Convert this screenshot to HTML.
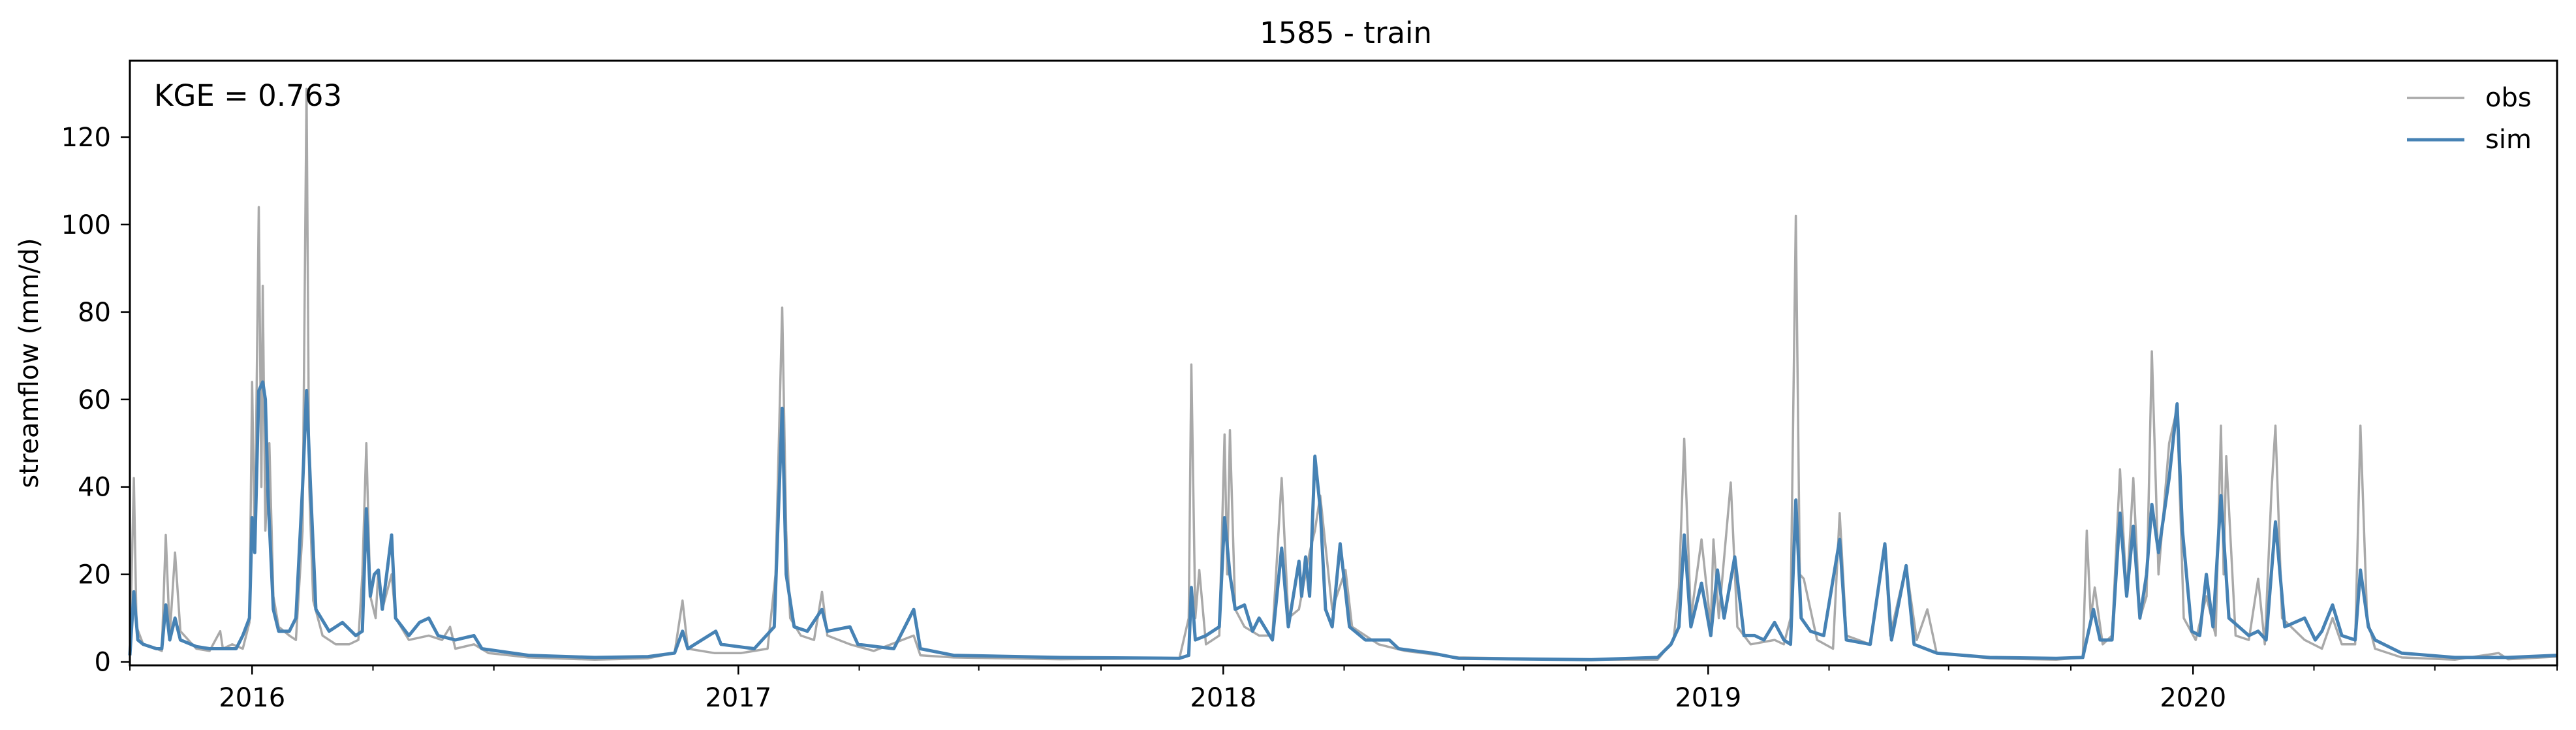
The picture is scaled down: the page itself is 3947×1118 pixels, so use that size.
<!DOCTYPE html>
<html><head><meta charset="utf-8"><style>
body{margin:0;background:#fff}
svg{display:block;font-family:"DejaVu Sans","Liberation Sans",sans-serif}
</style></head><body>
<svg id="chart" width="3947" height="1118" viewBox="0 0 3947 1118" xmlns="http://www.w3.org/2000/svg">
<text x="2062" y="66" font-size="45" text-anchor="middle">1585 - train</text>
<g id="plot"></g>
<rect x="199" y="93" width="3719" height="926" fill="none" stroke="#000" stroke-width="3"/>
<text x="236" y="162" font-size="45">KGE = 0.763</text>
<text transform="translate(58,556) rotate(-90)" font-size="40" text-anchor="middle">streamflow (mm/d)</text>
<g>
<line x1="3688" y1="150" x2="3776" y2="150" stroke="#a9a9a9" stroke-width="3.5"/>
<text x="3808" y="163" font-size="40">obs</text>
<line x1="3688" y1="214" x2="3776" y2="214" stroke="#4682b4" stroke-width="5"/>
<text x="3808" y="227" font-size="40">sim</text>
</g>
<g id="axes"></g>
</svg>
<script>
const yTicks=[0,20,40,60,80,100,120];
const yearTicks=[92,458,823,1188,1553];
const yearLabels=["2016","2017","2018","2019","2020"];
const quarterTicks=[0,183,274,549,639,731,914,1004,1096,1279,1369,1461,1644,1735,1827];
const obsDays=[
0,3,5,10,20,24,27,30,34,38,50,60,68,70,77,85,90,
92,94,97,99,100,102,105,108,112,120,125,130,133,135,138,145,155,
165,172,175,178,181,185,187,190,197,200,210,225,235,241,245,259,270,
300,350,390,410,416,420,440,460,480,486,491,494,497,505,515,521,525,
542,560,590,595,620,700,790,797,799,802,805,810,820,824,826,828,832,
839,850,860,867,872,880,888,892,896,905,915,920,940,960,1000,1100,1150,
1162,1166,1170,1175,1183,1190,1192,1196,1205,1210,1220,1238,1245,1250,1254,1257,1260,
1270,1282,1287,1292,1310,1321,1325,1337,1345,1353,1360,1400,1450,1470,1473,1476,1479,
1485,1492,1498,1503,1508,1513,1518,1522,1527,1535,1541,1546,1555,1563,1570,1574,1576,1578,
1585,1595,1602,1607,1612,1615,1620,1637,1650,1658,1665,1675,1679,1684,1690,1710,1750,1783,1790,1827];
const obsVals=[
2,42,8,4,3,2.5,29,6,25,7,3,2.5,7,3,4,3,9,
64,25,104,40,86,30,50,15,8,6,5,30,131,40,14,6,4,
4,5,20,50,15,10,21,12,20,10,5,6,5,8,3,4,2,
1,0.5,0.8,2,14,3,2,2,3,20,81,30,10,6,5,16,6,
4,2.5,6,1.5,1,0.6,0.8,10,68,10,21,4,6,52,20,53,12,
8,6,6,42,10,12,25,30,38,12,21,8,4,2.5,1,0.5,0.5,
5,17,51,10,28,8,28,10,41,8,4,5,4,10,102,20,19,
5,3,34,6,4,27,6,22,5,12,2,0.8,0.5,1,30,10,17,
4,6,44,15,42,10,15,71,20,50,58,10,5,15,6,54,20,47,
6,5,19,4,39,54,10,5,3,10,4,4,54,10,3,1,0.5,2,0.6,1.2];
const simDays=[
0,3,6,10,20,24,27,30,34,38,50,60,70,80,85,90,
92,94,97,100,102,104,108,112,120,125,130,133,136,140,150,160,
170,175,178,181,184,187,190,197,200,210,218,225,232,245,259,265,
300,350,390,410,416,420,441,445,470,485,491,494,500,510,521,525,
542,548,575,590,595,620,700,790,797,799,802,810,820,824,828,832,
839,845,850,860,867,872,880,882,885,888,892,896,900,905,911,918,
930,948,955,980,1000,1100,1150,1160,1166,1170,1175,1183,1190,1195,1200,1208,
1215,1223,1230,1238,1245,1250,1254,1258,1265,1275,1287,1292,1310,1321,1326,1337,
1343,1360,1400,1450,1470,1478,1483,1492,1498,1503,1508,1513,1518,1522,1527,1535,
1541,1545,1552,1558,1563,1568,1574,1580,1595,1602,1608,1615,1622,1637,1645,1650,
1658,1665,1675,1679,1685,1690,1710,1750,1790,1827];
const simVals=[
1.5,16,5,4,3,3,13,5,10,5,3.5,3,3,3,6,10,
33,25,62,64,60,38,12,7,7,10,40,62,40,12,7,9,
6,7,35,15,20,21,12,29,10,6,9,10,6,5,6,3,
1.5,1,1.2,2,7,3,7,4,3,8,58,20,8,7,12,7,
8,4,3,12,3,1.5,1,0.8,1.5,17,5,6,8,33,20,12,
13,7,10,5,26,8,23,15,24,15,47,35,12,8,27,8,
5,5,3,2,0.8,0.5,1,4,8,29,8,18,6,21,10,24,
6,6,5,9,5,4,37,10,7,6,28,5,4,27,5,22,
4,2,1,0.8,1,12,5,5,34,15,31,10,20,36,25,42,
59,30,7,6,20,8,38,10,6,7,5,32,8,10,5,7,
13,6,5,21,8,5,2,1,1,1.5];

const X0=199,X1=3918,D1=1827,Y0=1013.6,PY=6.697;
function xScale(d){return X0+(X1-X0)*d/D1;}
function yScale(v){return Y0-v*PY;}
const NS="http://www.w3.org/2000/svg";
const plot=document.getElementById('plot');
const axes=document.getElementById('axes');
function series(days,vals,color,w,name){
  const n=Math.min(days.length,vals.length);
  const pts=[];
  for(let i=0;i<n;i++)pts.push(xScale(days[i]).toFixed(1)+','+yScale(vals[i]).toFixed(1));
  const p=document.createElementNS(NS,'polyline');
  p.setAttribute('points',pts.join(' '));
  p.setAttribute('fill','none');p.setAttribute('stroke',color);p.setAttribute('stroke-width',w);
  p.setAttribute('stroke-linejoin','round');
  
  
  plot.appendChild(p);
}
series(obsDays,obsVals,'#a9a9a9',3.5,'obs-line');
series(simDays,simVals,'#4682b4',5,'sim-line');
yTicks.forEach(v=>{
  const y=yScale(v);
  const l=document.createElementNS(NS,'line');
  l.setAttribute('x1',185);l.setAttribute('x2',199);l.setAttribute('y1',y);l.setAttribute('y2',y);
  l.setAttribute('stroke','#000');l.setAttribute('stroke-width',2.5);
  
  
  axes.appendChild(l);
  const t=document.createElementNS(NS,'text');
  t.setAttribute('x',170);t.setAttribute('y',y+14);t.setAttribute('font-size',40);t.setAttribute('text-anchor','end');
  t.textContent=v;
  
  
  axes.appendChild(t);
});
quarterTicks.forEach(d=>{
  const x=xScale(d);
  const l=document.createElementNS(NS,'line');
  l.setAttribute('x1',x);l.setAttribute('x2',x);l.setAttribute('y1',1019);l.setAttribute('y2',1027);
  l.setAttribute('stroke','#000');l.setAttribute('stroke-width',2);
  
  
  axes.appendChild(l);
});
yearTicks.forEach((d,i)=>{
  const x=xScale(d);
  const l=document.createElementNS(NS,'line');
  l.setAttribute('x1',x);l.setAttribute('x2',x);l.setAttribute('y1',1019);l.setAttribute('y2',1033);
  l.setAttribute('stroke','#000');l.setAttribute('stroke-width',2.5);
  
  
  axes.appendChild(l);
  const t=document.createElementNS(NS,'text');
  t.setAttribute('x',x);t.setAttribute('y',1082);t.setAttribute('font-size',40);t.setAttribute('text-anchor','middle');
  t.textContent=yearLabels[i];
  
  
  axes.appendChild(t);
});
</script>
</body></html>
